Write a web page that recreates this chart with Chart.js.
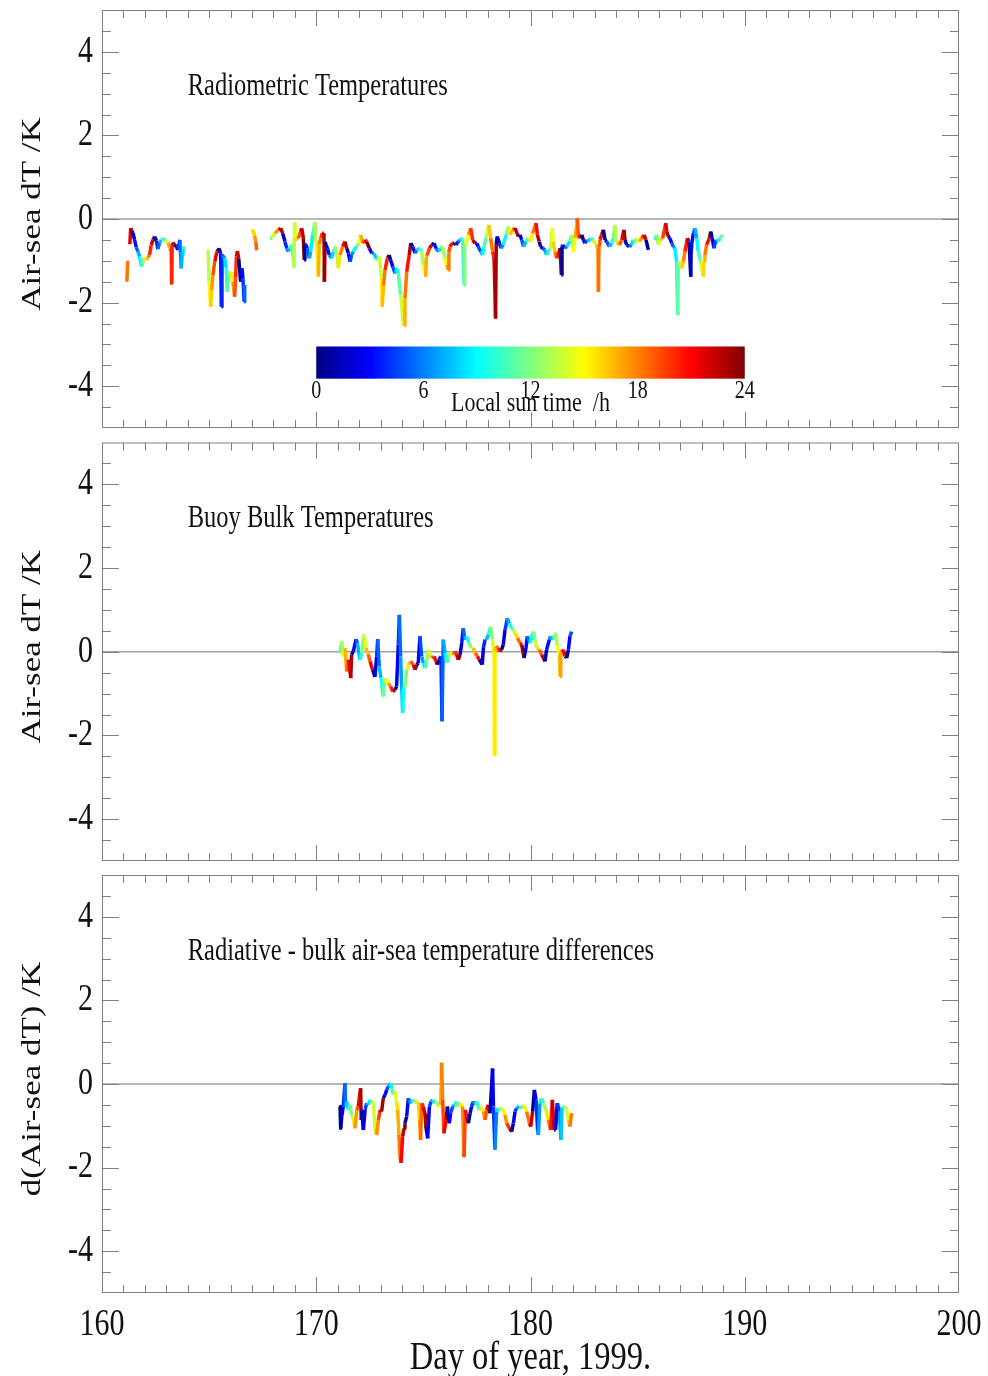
<!DOCTYPE html>
<html>
<head>
<meta charset="utf-8">
<script src="https://cdn.jsdelivr.net/npm/chart.js@4.4.0/dist/chart.umd.min.js"></script>
<style>
html, body { margin: 0; padding: 0; background: #fff; }
#wrap { position: relative; width: 988px; height: 1376px; overflow: hidden; background: #fff; }
canvas { position: absolute; left: 0; }
</style>
</head>
<body>
<div id="wrap">
  <canvas id="c1" width="988" height="450" style="top:0px"></canvas>
  <canvas id="c2" width="988" height="450" style="top:430px"></canvas>
  <canvas id="c3" width="988" height="511" style="top:865px"></canvas>
</div>
<script>
// ---- data (day of year, air-sea dT in K); null = gap in record ----
const p1Days = [
  161.16,161.20,161.25,161.30,161.34,161.40,161.45,161.52,161.60,161.68,161.76,161.84,161.90,161.99,
  162.07,162.15,162.22,162.30,162.38,162.46,162.54,162.61,162.69,162.77,162.85,162.93,163.00,163.08,
  163.16,163.23,163.25,163.27,163.31,163.39,163.47,163.55,163.63,163.66,163.70,163.74,163.78,163.86,
  164.40,
  164.95,165.00,165.07,165.12,165.18,165.26,165.37,165.46,165.54,165.57,165.60,165.65,165.73,165.80,
  165.85,165.91,166.01,166.11,166.19,166.24,166.27,166.32,166.38,166.47,166.53,166.58,166.63,166.66,
  166.80,
  166.97,167.05,167.12,167.18,167.22,
  167.50,
  167.84,167.92,168.07,168.23,168.34,168.43,168.54,168.62,168.70,168.77,168.85,168.93,168.96,168.99,
  169.03,169.16,169.27,169.32,169.40,169.44,169.47,169.52,169.58,169.68,169.74,169.83,169.94,169.97,
  170.02,170.10,170.14,170.21,170.28,170.36,170.38,170.41,170.46,170.52,170.61,170.72,170.80,170.92,
  171.03,171.11,171.23,171.34,171.42,171.50,171.58,171.65,171.73,171.86,172.01,172.07,172.17,172.28,
  172.35,172.48,172.59,172.70,172.79,172.85,172.94,173.05,173.08,173.14,173.21,173.32,173.40,173.47,
  173.57,173.68,173.75,173.83,173.94,174.06,174.10,174.14,174.22,174.34,174.41,174.50,174.61,174.69,
  174.84,174.92,175.00,175.11,175.14,175.18,175.28,175.39,175.50,175.59,175.70,175.81,175.90,176.01,
  176.09,176.16,176.19,176.24,176.35,176.45,176.52,176.63,176.71,176.83,176.90,176.93,176.99,177.10,
  177.21,177.30,177.41,177.49,177.56,177.67,177.77,177.83,177.92,178.06,178.14,178.23,178.30,178.37,
  178.40,178.45,178.55,178.62,178.73,178.86,178.97,179.04,179.17,179.28,179.43,179.51,179.59,179.67,
  179.79,179.90,180.01,180.10,180.26,180.32,180.41,180.47,180.57,180.68,180.75,180.83,180.94,181.02,
  181.06,181.14,181.22,181.30,181.38,181.44,181.47,181.50,181.61,181.69,181.84,181.92,182.00,182.08,
  182.17,182.19,182.23,182.31,182.39,182.47,182.54,182.62,182.70,182.81,182.93,183.06,183.15,183.17,
  183.20,183.24,183.32,183.40,183.48,183.56,183.68,183.79,183.87,183.94,184.02,184.15,184.26,184.36,
  184.41,184.49,184.61,184.72,184.80,184.88,184.96,185.08,185.19,185.30,185.39,185.50,
  185.65,
  185.81,185.89,185.97,186.04,186.17,186.31,186.36,186.43,186.51,186.59,186.67,186.74,186.82,186.87,
  186.90,186.95,187.06,187.13,187.21,187.32,187.40,187.48,187.50,187.52,187.60,187.68,187.76,187.83,
  187.94,188.07,188.10,188.14,188.22,188.35,188.41,188.48,188.56,188.66,188.77,188.84,188.97
];
const p1Vals = [
  -1.50,-1.00,null,-0.60,-0.22,-0.30,-0.34,-0.50,-0.68,-0.78,-0.90,-1.14,-1.05,-0.92,
  -0.98,-0.92,-0.86,-0.62,-0.50,-0.42,-0.52,-0.72,-0.56,-0.50,-0.46,-0.50,-0.52,-0.56,
  -0.70,-0.75,-1.54,-0.60,-0.56,-0.62,-0.66,-0.74,-0.50,-0.80,-1.18,-0.85,-0.72,-0.66,
  null,
  -0.74,-1.50,-2.10,-1.70,-1.34,-1.02,-0.78,-0.70,-0.82,-2.10,-0.86,-0.88,-0.94,-1.18,
  -1.74,-1.34,-1.26,-1.50,-1.86,-1.40,-0.90,-0.77,-0.94,-1.50,-1.18,-1.42,-1.98,-1.58,
  null,
  -0.30,-0.26,-0.40,-0.55,-0.75,
  null,
  -0.46,-0.46,-0.34,-0.26,-0.22,-0.34,-0.54,-0.70,-0.78,-0.70,-0.62,-0.94,-1.14,-0.08,
  -0.50,-0.46,-0.30,-0.22,-0.46,-0.98,-0.60,-0.62,-0.70,-0.94,-0.78,-0.38,-0.08,-0.45,
  -0.62,-1.38,-0.60,-0.46,-0.34,-0.34,-1.50,-0.55,-0.62,-0.70,-0.86,-0.94,-0.78,-0.66,
  -1.18,-0.86,-0.66,-0.54,-0.70,-0.82,-1.02,-0.86,-0.78,-0.66,-0.58,-0.38,-0.58,-0.50,
  -0.54,-0.70,-0.82,-0.82,-0.94,-0.98,-0.90,-1.40,-2.10,-1.60,-1.22,-0.94,-0.86,-0.98,
  -1.14,-1.30,-1.18,-1.30,-1.82,-2.50,-2.54,-1.90,-1.26,-0.86,-0.58,-0.66,-0.82,-0.74,
  -0.70,-0.78,-1.10,-1.38,-0.90,-0.86,-0.70,-0.62,-0.58,-0.70,-0.78,-0.70,-0.66,-0.94,
  -1.10,-1.22,-0.80,-0.66,-0.58,-0.58,-0.62,-0.54,-0.50,-0.46,-1.58,-0.60,-0.62,-0.38,
  -0.22,-0.50,-0.58,-0.58,-0.66,-0.78,-0.86,-0.66,-0.46,-0.14,-0.46,-0.78,-0.94,-2.38,
  -0.60,-0.42,-0.58,-0.70,-0.62,-0.38,-0.18,-0.38,-0.26,-0.22,-0.42,-0.38,-0.50,-0.66,
  -0.54,-0.46,-0.54,-0.34,-0.10,-0.38,-0.54,-0.66,-0.70,-0.74,-0.86,-0.78,-0.70,-0.22,
  -0.55,-0.78,-0.94,-0.86,-0.70,-1.34,-0.65,-0.62,-0.70,-0.66,-0.54,-0.38,-0.78,-0.46,
  -0.10,0.02,-0.38,-0.46,-0.38,-0.50,-0.58,-0.50,-0.54,-0.46,-0.50,-0.62,-0.70,-1.74,
  -0.60,-0.50,-0.38,-0.26,-0.50,-0.54,-0.66,-0.58,-0.46,-0.14,-0.54,-0.62,-0.50,-0.26,
  -0.50,-0.62,-0.66,-0.62,-0.50,-0.58,-0.46,-0.54,-0.46,-0.38,-0.50,-0.74,
  null,
  -0.50,-0.38,-0.62,-0.50,-0.46,-0.10,-0.30,-0.42,-0.46,-0.58,-0.66,-0.70,-1.02,-2.30,
  -1.10,-1.02,-1.18,-1.02,-0.78,-0.46,-0.54,-1.38,-0.70,-0.62,-0.34,-0.22,-0.46,-0.78,
  -1.02,-1.38,-1.00,-0.86,-0.62,-0.46,-0.30,-0.45,-0.70,-0.50,-0.54,-0.46,-0.38
];

const p2Days = [
  171.11,171.19,171.26,171.34,171.42,171.50,171.61,171.65,171.73,171.86,171.92,172.04,172.12,172.23,
  172.32,172.43,172.51,172.63,172.74,172.82,172.87,172.94,173.02,173.13,173.18,173.26,173.36,173.47,
  173.57,173.68,173.75,173.83,173.88,173.94,173.99,174.03,174.08,174.14,174.22,174.30,174.41,174.53,
  174.61,174.69,174.76,174.84,174.92,175.00,175.08,175.15,175.23,175.31,175.39,175.50,175.59,175.65,
  175.74,175.82,175.87,175.93,176.01,176.09,176.16,176.24,176.37,176.48,176.55,176.63,176.71,176.79,
  176.86,176.94,177.02,177.13,177.25,177.33,177.41,177.52,177.61,177.75,177.80,177.88,177.95,178.03,
  178.14,178.23,178.30,178.31,178.34,178.39,178.50,178.58,178.65,178.73,178.81,178.92,179.01,179.12,
  179.20,179.28,179.39,179.51,179.59,179.70,179.79,179.85,179.98,180.13,180.21,180.29,180.41,180.52,
  180.68,180.75,180.88,180.94,181.07,181.19,181.25,181.35,181.38,181.41,181.46,181.53,181.61,181.69,
  181.77,181.84,181.92
];
const p2Vals = [
  -0.03,0.25,-0.11,0.09,-0.47,-0.19,-0.63,-0.07,0.01,0.30,0.21,-0.19,-0.03,0.41,
  0.09,-0.07,-0.23,-0.43,-0.60,-0.11,0.30,-0.35,-0.63,-1.07,-0.75,-0.63,-0.75,-0.83,
  -0.95,-0.91,-0.83,0.17,0.88,-0.11,-0.91,-1.46,-0.83,-0.83,-0.43,-0.31,-0.23,-0.31,
  -0.43,-0.31,-0.27,0.37,-0.11,-0.27,-0.39,-0.23,0.05,-0.07,-0.15,-0.11,-0.23,-0.31,
  -0.19,-0.11,-1.66,0.29,-0.03,-0.27,-0.15,-0.03,-0.07,0.01,-0.07,-0.19,-0.07,0.21,
  0.56,0.29,0.37,0.21,0.09,0.09,-0.03,-0.11,-0.19,-0.31,0.09,0.29,0.29,0.41,
  0.60,0.29,-0.11,-2.46,0.00,0.13,0.09,0.01,0.05,0.17,0.52,0.80,0.68,0.56,
  0.52,0.45,0.33,0.21,0.17,-0.15,0.09,0.37,0.21,0.48,0.29,0.09,0.05,-0.07,
  -0.23,0.05,0.29,0.37,0.29,0.45,0.13,-0.07,-0.59,0.00,0.01,0.05,-0.11,-0.15,
  0.05,0.37,0.48
];

const p3Days = [
  171.11,171.14,171.19,171.26,171.34,171.37,171.42,171.50,171.58,171.65,171.73,171.81,171.89,171.96,
  172.07,172.10,172.12,172.20,172.28,172.35,172.43,172.51,172.59,172.66,172.74,172.82,172.90,172.98,
  173.05,173.13,173.21,173.29,173.36,173.47,173.52,173.60,173.68,173.75,173.80,173.86,173.91,173.96,
  174.03,174.10,174.14,174.22,174.30,174.38,174.45,174.53,174.61,174.69,174.76,174.82,174.87,174.92,
  175.00,175.08,175.12,175.20,175.28,175.36,175.43,175.54,175.62,175.70,175.81,175.85,175.90,175.96,
  176.06,176.12,176.21,176.27,176.37,176.45,176.55,176.63,176.71,176.83,176.90,176.96,177.02,177.10,
  177.18,177.25,177.33,177.41,177.49,177.61,177.72,177.80,177.88,177.95,178.03,178.11,178.23,178.27,
  178.34,178.42,178.50,178.58,178.70,178.81,178.89,179.01,179.12,179.20,179.28,179.35,179.48,179.59,
  179.70,179.82,179.95,180.01,180.10,180.18,180.26,180.33,180.37,180.44,180.52,180.60,180.72,180.83,
  180.94,181.02,181.10,181.17,181.25,181.35,181.42,181.47,181.56,181.66,181.77,181.84,181.92
];
const p3Vals = [
  -0.54,-1.06,-0.78,-0.54,0.02,-0.54,-0.42,-0.62,-0.50,-0.74,-0.82,-1.06,-0.62,-0.54,
  -0.10,-0.86,-0.62,-1.10,-0.62,-0.46,-0.50,-0.38,-0.46,-0.42,-1.06,-1.22,-0.86,-0.62,
  -0.66,-0.34,-0.26,-0.14,-0.06,0.02,-0.10,-0.26,-0.18,-0.42,-0.62,-1.22,-1.73,-1.89,
  -1.26,-1.06,-0.94,-0.78,-0.34,-0.46,-0.38,-0.42,-0.38,-0.46,-0.42,-0.86,-1.34,-0.46,
  -0.54,-0.74,-1.02,-1.30,-0.54,-0.42,-0.38,-0.46,-0.42,-0.54,-0.50,0.51,-0.38,-1.18,
  -0.86,-0.54,-0.94,-0.70,-0.54,-0.50,-0.42,-0.54,-0.46,-0.54,-1.75,-0.62,-0.78,-0.94,
  -0.70,-0.54,-0.42,-0.50,-0.42,-0.62,-0.54,-0.66,-0.86,-0.62,-0.50,-0.70,0.37,-0.54,
  -1.57,-0.66,-0.58,-0.62,-0.58,-0.74,-0.94,-1.06,-1.14,-0.94,-0.66,-0.58,-0.54,-0.58,
  -0.50,-0.66,-0.94,-1.02,-0.66,-0.14,-0.38,-1.10,-1.22,-0.46,-0.34,-0.46,-0.62,-0.86,
  -1.10,-0.38,-1.10,-1.10,-0.46,-0.66,-1.34,-0.54,-0.58,-0.54,-0.86,-1.02,-0.70
];

const xTickLabels = [160, 170, 180, 190, 200];
const yTickLabels = [-4, -2, 0, 2, 4];
const sunTicks = [0, 6, 12, 18, 24];

const panelTitles = ['Radiometric Temperatures', 'Buoy Bulk Temperatures',
  'Radiative - bulk air-sea temperature differences'];
const yTitles = ['Air-sea dT /K', 'Air-sea dT /K', 'd(Air-sea dT) /K'];
// hours to add to the UT day fraction to get local sun time, per panel
const hourShift = [13.9, 7.7, 21.0];

// ---- helpers ----
const SERIF = '"Liberation Serif", "Times New Roman", serif';
const STRETCH = 1.25;

function jet(t) {
  const c = v => Math.round(255 * Math.max(0, Math.min(1, v)));
  return `rgb(${c(1.5 - Math.abs(4 * t - 3))},${c(1.5 - Math.abs(4 * t - 2))},${c(1.5 - Math.abs(4 * t - 1))})`;
}

function sunHour(day, shift) {
  return ((day - Math.floor(day)) * 24 + shift) % 24;
}

function drawText(ctx, txt, x, y, size, align, rotated) {
  ctx.save();
  ctx.translate(x, y);
  if (rotated) { ctx.rotate(-Math.PI / 2); ctx.scale(STRETCH, 1); }
  else ctx.scale(1, STRETCH);
  ctx.font = size + 'px ' + SERIF;
  ctx.fillStyle = '#111';
  ctx.textAlign = align;
  ctx.textBaseline = 'middle';
  ctx.fillText(txt, 0, 0);
  ctx.restore();
}

function seg(ctx, x1, y1, x2, y2) {
  ctx.beginPath(); ctx.moveTo(x1, y1); ctx.lineTo(x2, y2); ctx.stroke();
}

function decor(idx) {
  return {
    id: 'decor' + idx,
    beforeDatasetsDraw(chart) {
      const { ctx, chartArea: a, scales: { y } } = chart;
      const y0 = y.getPixelForValue(0);
      ctx.save();
      ctx.strokeStyle = '#a0a0a0';
      ctx.lineWidth = 1.5;
      seg(ctx, a.left, y0, a.right, y0);
      ctx.restore();
    },
    afterDraw(chart) {
      const { ctx, chartArea: a, scales: { x, y } } = chart;
      ctx.save();
      ctx.strokeStyle = '#808080';
      ctx.lineWidth = 1;
      ctx.strokeRect(a.left + 0.5, a.top + 0.5, a.right - a.left - 1, a.bottom - a.top - 1);
      for (let d = 161; d < 200; d++) {
        const px = Math.round(x.getPixelForValue(d)) + 0.5;
        const len = d % 10 === 0 ? 16 : 8;
        seg(ctx, px, a.top, px, a.top + len);
        seg(ctx, px, a.bottom, px, a.bottom - len);
      }
      for (let v = -4.5; v <= 4.5; v += 0.5) {
        const py = Math.round(y.getPixelForValue(v)) + 0.5;
        const len = v % 2 === 0 ? 17 : 9;
        seg(ctx, a.left, py, a.left + len, py);
        seg(ctx, a.right, py, a.right - len, py);
      }
      ctx.restore();

      yTickLabels.forEach(v => drawText(ctx, String(v), a.left - 9, y.getPixelForValue(v), 30, 'right'));
      drawText(ctx, yTitles[idx], 33, y.getPixelForValue(0) - 5, 28, 'center', true);
      drawText(ctx, panelTitles[idx], x.getPixelForValue(164.0), y.getPixelForValue(3.17), 24.5, 'left');

      if (idx === 0) {
        // colour bar for local sun time, placed on the day axis 170..190
        const x0 = x.getPixelForValue(170), x1 = x.getPixelForValue(190);
        const yt = y.getPixelForValue(-3.05), yb = y.getPixelForValue(-3.82);
        const g = ctx.createLinearGradient(x0, 0, x1, 0);
        for (let i = 0; i <= 32; i++) g.addColorStop(i / 32, jet(i / 32));
        ctx.fillStyle = g;
        ctx.fillRect(x0, yt, x1 - x0, yb - yt);
        sunTicks.forEach(h => drawText(ctx, String(h), x0 + (x1 - x0) * h / 24, y.getPixelForValue(-4.13), 20, 'center'));
        drawText(ctx, 'Local sun time  /h', x.getPixelForValue(180), y.getPixelForValue(-4.43), 22, 'center');
      }
      if (idx === 2) {
        xTickLabels.forEach(d => drawText(ctx, String(d), x.getPixelForValue(d), a.bottom + 32, 30, 'center'));
        drawText(ctx, 'Day of year, 1999.', x.getPixelForValue(180), a.bottom + 65, 32.5, 'center');
      }
    }
  };
}

function makePanel(idx, canvasId, days, vals, padding) {
  const pts = days.map((d, i) => ({ x: d, y: vals[i] }));
  const shift = hourShift[idx];
  return new Chart(document.getElementById(canvasId), {
    type: 'line',
    data: {
      datasets: [{
        data: pts,
        borderWidth: 3.5,
        pointRadius: 0,
        tension: 0,
        spanGaps: false,
        borderJoinStyle: 'round',
        segment: {
          borderColor: c => jet(sunHour((c.p0.parsed.x + c.p1.parsed.x) / 2, shift) / 24)
        }
      }]
    },
    options: {
      responsive: false,
      animation: false,
      layout: { padding: padding },
      plugins: { legend: { display: false }, tooltip: { enabled: false } },
      scales: {
        x: { type: 'linear', min: 160, max: 200, display: false },
        y: { type: 'linear', min: -5, max: 5, display: false }
      }
    },
    plugins: [decor(idx)]
  });
}

makePanel(0, 'c1', p1Days, p1Vals, { left: 102, right: 29, top: 10, bottom: 22 });
makePanel(1, 'c2', p2Days, p2Vals, { left: 102, right: 29, top: 12.5, bottom: 19 });
makePanel(2, 'c3', p3Days, p3Vals, { left: 102, right: 29, top: 10, bottom: 83 });
</script>
</body>
</html>
